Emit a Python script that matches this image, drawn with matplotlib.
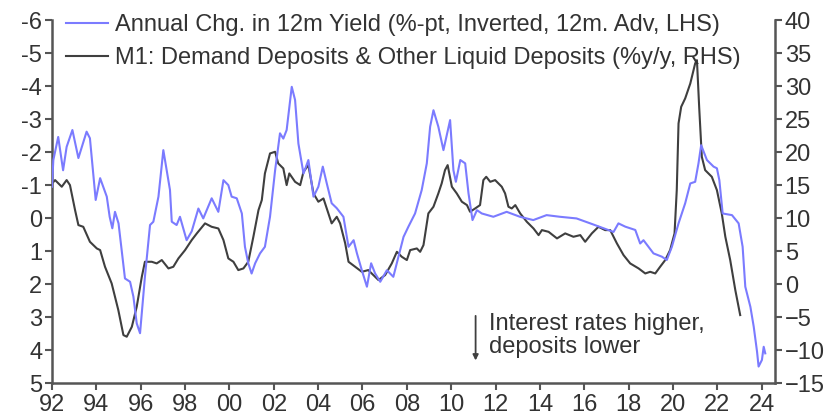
import numpy as np
import matplotlib
matplotlib.use('Agg')
import matplotlib.pyplot as plt
from matplotlib.ticker import FuncFormatter, MultipleLocator

plt.rcParams['font.family'] = ['Liberation Sans', 'DejaVu Sans']

# annual change in 12m yield (%-pt, inverted, 12m advanced) - LHS
yield_years = [1992.0, 1992.06, 1992.28, 1992.5, 1992.66, 1992.92, 1993.19, 1993.56, 1993.71, 1993.97,
               1994.17, 1994.47, 1994.6, 1994.72, 1994.84, 1995.0, 1995.29, 1995.52, 1995.67, 1995.82,
               1995.97, 1996.19, 1996.42, 1996.57, 1996.8, 1997.02, 1997.32, 1997.4, 1997.62, 1997.77,
               1998.07, 1998.3, 1998.6, 1998.82, 1999.2, 1999.5, 1999.73, 1999.95, 2000.1, 2000.33,
               2000.56, 2000.7, 2000.85, 2001.0, 2001.16, 2001.38, 2001.6, 2001.83, 2002.06, 2002.28,
               2002.43, 2002.58, 2002.81, 2002.96, 2003.11, 2003.34, 2003.56, 2003.79, 2004.01, 2004.21,
               2004.39, 2004.61, 2004.84, 2005.14, 2005.37, 2005.6, 2005.75, 2005.97, 2006.2, 2006.39,
               2006.57, 2006.8, 2007.1, 2007.39, 2007.62, 2007.85, 2008.07, 2008.37, 2008.67, 2008.9,
               2009.05, 2009.2, 2009.42, 2009.65, 2009.8, 2009.95, 2010.1, 2010.21, 2010.41, 2010.63,
               2010.78, 2010.96, 2011.16, 2011.38, 2011.9, 2012.5, 2013.1, 2013.7, 2014.3, 2014.9,
               2015.65, 2016.27, 2016.87, 2017.32, 2017.54, 2017.85, 2018.3, 2018.52, 2018.67, 2019.12,
               2019.5, 2019.72, 2019.95, 2020.25, 2020.55, 2020.78, 2021.0, 2021.15, 2021.27, 2021.53,
               2021.83, 2021.98, 2022.09, 2022.24, 2022.66, 2022.96, 2023.14, 2023.26, 2023.49, 2023.64,
               2023.79, 2023.86, 2024.01, 2024.09, 2024.16]
yield_chg = [-0.95, -1.76, -2.46, -1.45, -2.16, -2.67, -1.82, -2.62, -2.42, -0.55,
             -1.21, -0.65, -0.04, 0.31, -0.19, 0.16, 1.83, 1.93, 2.38, 3.19,
             3.49, 1.78, 0.21, 0.11, -0.65, -2.06, -0.85, 0.11, 0.21, -0.04,
             0.67, 0.4, -0.29, 0.01, -0.6, -0.19, -1.15, -1.0, -0.65, -0.6,
             -0.14, 0.87, 1.37, 1.68, 1.37, 1.07, 0.87, -0.04, -1.45, -2.57,
             -2.41, -2.67, -3.98, -3.58, -2.26, -1.35, -1.76, -0.65, -0.95, -1.56,
             -1.05, -0.45, -0.3, -0.04, 0.87, 0.67, 1.07, 1.58, 2.08, 1.37,
             1.68, 1.93, 1.58, 1.78, 1.17, 0.57, 0.26, -0.14, -0.85, -1.66,
             -2.77, -3.27, -2.77, -2.06, -2.52, -2.97, -1.45, -1.1, -1.76, -1.66,
             -0.75, 0.06, -0.24, -0.14, -0.04, -0.19, -0.04, 0.06, -0.09, -0.04,
             0.01, 0.16, 0.31, 0.42, 0.16, 0.26, 0.36, 0.77, 0.67, 1.07,
             1.17, 1.27, 0.87, 0.16, -0.45, -1.05, -1.1, -1.66, -2.21, -1.76,
             -1.56, -1.51, -1.15, -0.14, -0.09, 0.16, 0.87, 2.08, 2.69, 3.29,
             4.05, 4.5, 4.3, 3.9, 4.1]

# M1 demand deposits & other liquid deposits (%y/y) - RHS
m1_years = [1992.0, 1992.14, 1992.44, 1992.66, 1992.81, 1993.04, 1993.19, 1993.41, 1993.71, 1994.02,
            1994.17, 1994.39, 1994.69, 1994.99, 1995.22, 1995.37, 1995.6, 1995.82, 1996.05, 1996.19,
            1996.5, 1996.72, 1996.95, 1997.25, 1997.47, 1997.7, 1998.0, 1998.3, 1998.53, 1998.9,
            1999.2, 1999.5, 1999.73, 1999.95, 2000.18, 2000.4, 2000.63, 2000.85, 2001.08, 2001.31,
            2001.46, 2001.6, 2001.83, 2002.06, 2002.2, 2002.43, 2002.58, 2002.7, 2002.96, 2003.19,
            2003.34, 2003.56, 2003.79, 2004.01, 2004.24, 2004.46, 2004.61, 2004.84, 2004.99, 2005.22,
            2005.37, 2005.67, 2005.97, 2006.26, 2006.49, 2006.72, 2007.02, 2007.32, 2007.55, 2007.77,
            2008.0, 2008.15, 2008.45, 2008.6, 2008.75, 2008.97, 2009.2, 2009.42, 2009.57, 2009.72,
            2009.84, 2010.03, 2010.25, 2010.48, 2010.71, 2010.85, 2011.08, 2011.3, 2011.45, 2011.58,
            2011.76, 2011.98, 2012.28, 2012.43, 2012.58, 2012.73, 2012.89, 2013.11, 2013.41, 2013.71,
            2013.94, 2014.09, 2014.39, 2014.77, 2015.14, 2015.51, 2015.82, 2016.04, 2016.34, 2016.64,
            2016.94, 2017.17, 2017.47, 2017.77, 2018.07, 2018.45, 2018.75, 2018.97, 2019.2, 2019.42,
            2019.65, 2019.87, 2020.07, 2020.17, 2020.25, 2020.37, 2020.55, 2020.78, 2021.0, 2021.08,
            2021.18, 2021.3, 2021.45, 2021.75, 2021.98, 2022.2, 2022.36, 2022.58, 2022.81, 2023.03]
m1_growth = [15.25, 15.76, 14.75, 15.76, 15.0, 11.21, 8.94, 8.68, 6.41, 5.4,
             5.15, 2.62, 0.1, -3.94, -7.73, -7.98, -6.47, -3.44, 1.11, 3.38,
             3.38, 3.13, 3.64, 2.37, 2.62, 3.89, 5.15, 6.67, 7.68, 9.2,
             8.68, 8.43, 6.67, 3.89, 3.38, 2.12, 2.37, 3.38, 7.17, 11.21,
             12.73, 16.77, 19.8, 20.05, 18.29, 17.53, 15.0, 16.77, 15.5, 15.0,
             17.02, 18.03, 13.74, 12.48, 12.98, 10.71, 9.2, 10.2, 9.2, 6.17,
             3.38, 2.62, 1.86, 2.12, 1.36, 0.61, 1.36, 3.13, 4.89, 4.14,
             3.64, 5.15, 5.4, 4.89, 5.91, 10.71, 11.72, 13.74, 15.25, 17.27,
             18.03, 14.75, 13.74, 12.48, 11.97, 10.96, 11.46, 11.97, 15.76, 16.26,
             15.5, 15.76, 14.75, 13.74, 11.72, 11.46, 11.97, 10.71, 9.44, 8.43,
             7.42, 8.18, 7.92, 6.92, 7.68, 7.17, 7.42, 6.41, 7.68, 8.68,
             8.18, 8.18, 6.17, 4.39, 3.13, 2.37, 1.61, 1.86, 1.61, 2.62,
             3.64, 5.15, 7.68, 14.24, 24.35, 26.87, 28.14, 30.4, 33.44, 33.94,
             26.87, 19.29, 17.27, 16.26, 14.24, 10.71, 7.17, 3.64, -0.91, -4.7]

yield_label = 'Annual Chg. in 12m Yield (%-pt, Inverted, 12m. Adv, LHS)'
m1_label = 'M1: Demand Deposits & Other Liquid Deposits (%y/y, RHS)'

blue = '#7b7bff'
dark = '#3f3f3f'
axis_col = '#555555'
text_col = '#333333'
fs = 17

fig = plt.figure(figsize=(8.32, 4.2), dpi=100)
ax = fig.add_axes([0.0625, 0.088, 0.869, 0.864])
ax2 = ax.twinx()

l1, = ax.plot(yield_years, yield_chg, color=blue, lw=1.5, zorder=3)
l2, = ax2.plot(m1_years, m1_growth, color=dark, lw=1.5)
ax.set_zorder(ax2.get_zorder() + 1)
ax.patch.set_visible(False)

ax.set_xlim(1992, 2024.6)
ax.set_ylim(5, -6)
ax2.set_ylim(-15, 40)

ax.xaxis.set_major_locator(MultipleLocator(2))
ax.xaxis.set_major_formatter(FuncFormatter(lambda v, p: f"{int(round(v)) % 100:02d}"))
ax.yaxis.set_major_locator(MultipleLocator(1))
ax2.yaxis.set_major_locator(MultipleLocator(5))
ax.yaxis.set_major_formatter(FuncFormatter(lambda v, p: f"{int(round(v))}"))

for a in (ax, ax2):
    a.spines['top'].set_visible(False)
    for s in ('left', 'right', 'bottom'):
        a.spines[s].set_color(axis_col)
        a.spines[s].set_linewidth(1.8)
    a.tick_params(axis='both', colors=axis_col, labelcolor=text_col, labelsize=fs,
                  width=1.5, length=5, direction='out')
ax.spines['right'].set_visible(False)
ax2.spines['left'].set_visible(False)
ax2.spines['bottom'].set_visible(False)
ax.tick_params(axis='x', pad=3)
ax.tick_params(axis='y', pad=2)
ax2.tick_params(axis='y', pad=2)

ax.legend([l1, l2], [yield_label, m1_label], loc='upper left', bbox_to_anchor=(0.02, 1.017),
          frameon=False, fontsize=fs, handlelength=1.75, handletextpad=0.3, labelspacing=0.47,
          labelcolor=text_col, borderaxespad=0, borderpad=0)

ax.annotate('', xy=(2011.1, 4.4), xytext=(2011.1, 2.88),
            arrowprops=dict(arrowstyle='-|>', color=dark, lw=1.3, mutation_scale=8))
ax.text(2011.7, 3.56, 'Interest rates higher,\ndeposits lower', fontsize=fs, color=text_col,
        va='center', ha='left', linespacing=1.08)

fig.savefig('out.png', dpi=100)
